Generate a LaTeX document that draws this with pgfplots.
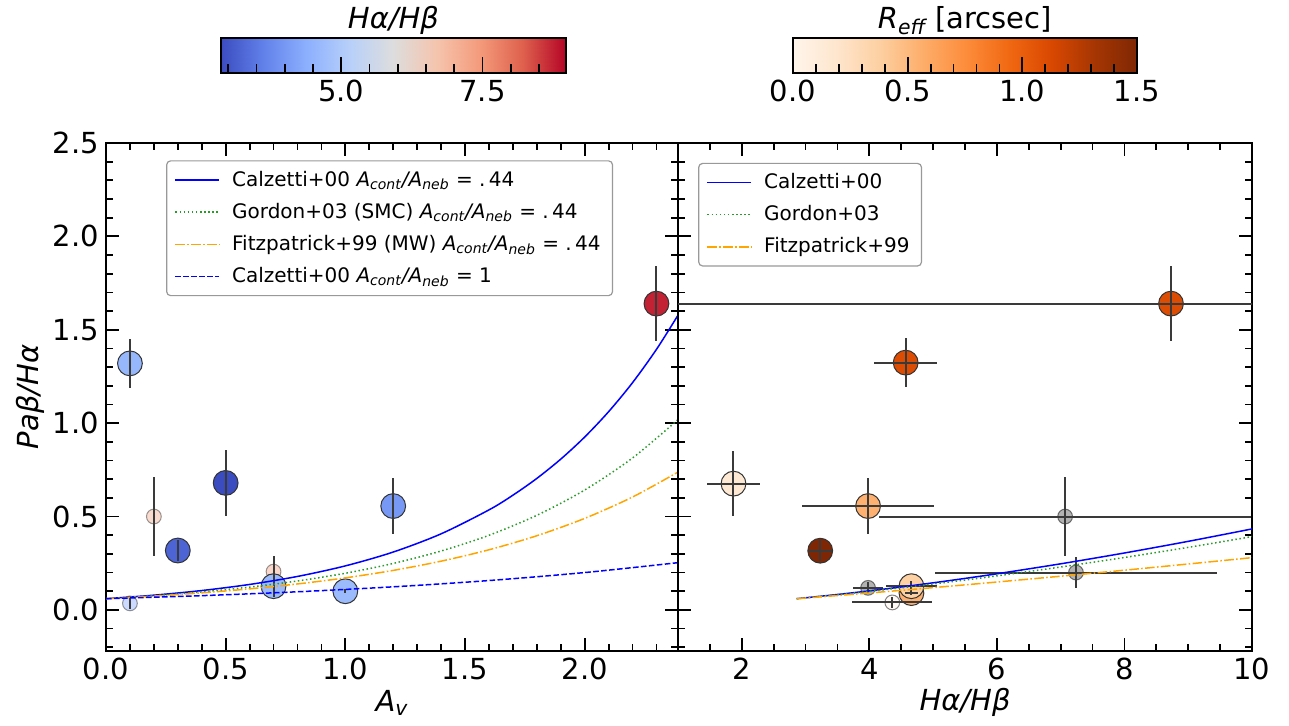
\documentclass[border=0pt]{standalone}
\usepackage{fontspec}
\setmainfont{DejaVu Sans}
\usepackage{pgfplots}
\usepackage{pgfplotstable}
\pgfplotsset{compat=1.18}

\definecolor{cblue}{HTML}{0000FF}
\definecolor{cgreen}{HTML}{2A9A2A}
\definecolor{corange}{HTML}{FFA500}
\definecolor{ebar}{HTML}{3A3A3A}
\definecolor{medge}{HTML}{333333}

\pgfplotsset{
  colormap={coolwarm}{rgb255=(59,76,192) rgb255=(98,130,234) rgb255=(141,176,254) rgb255=(184,208,249) rgb255=(221,221,221) rgb255=(245,196,173) rgb255=(244,154,123) rgb255=(222,96,77) rgb255=(180,4,38)},
  colormap={oranges}{rgb255=(255,245,235) rgb255=(254,230,206) rgb255=(253,208,162) rgb255=(253,174,107) rgb255=(253,141,60) rgb255=(241,105,19) rgb255=(217,72,1) rgb255=(166,54,3) rgb255=(127,39,4)},
}

\pgfplotsset{
  /pgf/number format/assume math mode=true,
  base/.style={
    scale only axis, anchor=south west,
    axis line style={line width=1.2pt},
    tick style={line width=0.9pt, black},
    major tick length=6.5pt, minor tick length=3.5pt,
    tick align=inside,
    tick label style={font=\fontsize{14.5}{17}\selectfont},
    label style={font=\fontsize{14.5}{17}\selectfont},
  },
  mainax/.style={
    base, height=254pt,
    clip marker paths=true,
    ymin=-0.22, ymax=2.5,
    ytick={0,0.5,1,1.5,2,2.5},
    minor ytick={-0.2,-0.1,0.1,0.2,0.3,0.4,0.6,0.7,0.8,0.9,1.1,1.2,1.3,1.4,1.6,1.7,1.8,1.9,2.1,2.2,2.3,2.4},
    xtick pos=both, ytick pos=both,
    xticklabel pos=lower, yticklabel pos=left,
    yticklabel style={/pgf/number format/.cd, fixed, fixed zerofill, precision=1},
    xlabel style={at={(axis description cs:0.5,-0.102)}, anchor=center},
  },
  lineax/.style={
    scale only axis, anchor=south west, height=254pt, ymin=-0.22, ymax=2.5,
    hide axis,
    legend style={font=\fontsize{10}{12}\selectfont, draw=black!40, rounded corners=2pt,
      line width=0.6pt, fill=white, inner xsep=4pt, inner ysep=3pt,
      row sep=3pt, column sep=4pt, cells={anchor=west}},
    legend cell align=left,
    legend image code/.code={\draw[##1] (0pt,0pt) -- (22pt,0pt);},
  },
  cbar/.style={
    base, height=17.5pt, ymin=0, ymax=1, ytick=\empty,
    xtick pos=lower, xticklabel pos=lower, axis on top,
    major tick length=8pt, minor tick length=4.5pt,
    xticklabel style={/pgf/number format/.cd, fixed, fixed zerofill, precision=1},
    every axis title shift=0pt,
    title style={at={(axis description cs:0.5,1.257)}, anchor=base, font=\fontsize{14.5}{17}\selectfont},
  },
  ebars/.style={forget plot, draw=none, mark=none,
    error bars/error mark=none,
    error bars/error bar style={draw=ebar, line width=1pt, solid}},
  lcal/.style={color=cblue, line width=0.75pt, solid},
  lgor/.style={color=cgreen, line width=0.75pt, dash pattern=on 0.75pt off 1.3pt},
  lfit/.style={color=corange, line width=0.75pt, dash pattern=on 4.8pt off 1.2pt on 0.75pt off 1.2pt},
  lcal1/.style={color=cblue, line width=0.75pt, dash pattern=on 2.8pt off 1.2pt},
}

% ---------- data ----------
% left panel: A_V, Pa beta / H alpha, colour = H alpha / H beta
\pgfplotstableread{
x y c ey
0.1 1.320 4.57 0.13
0.3 0.318 3.23 0.055
0.5 0.680 2.87 0.175
0.7 0.127 4.66 0.03
1.0 0.100 4.66 0.01
1.2 0.556 4.00 0.15
2.3 1.640 8.73 0.20
}\leftbig
\pgfplotstableread{
x y c ey
0.1 0.035 4.36 0.03
0.2 0.500 7.07 0.21
0.7 0.118 3.98 0.05
0.7 0.205 7.24 0.085
}\leftsmall
% right panel: H alpha / H beta, Pa beta / H alpha, colour = R_eff
\pgfplotstableread{
x y c ex ey
4.66 0.090 0.55 0.10 0.012
4.66 0.127 0.37 0.40 0.03
1.87 0.676 0.15 0.41 0.175
3.98 0.556 0.55 1.03 0.15
3.23 0.317 1.50 0.18 0.055
4.57 1.324 1.10 0.49 0.13
8.73 1.640 1.10 8.00 0.20
}\rightbig
\pgfplotstableread{
x y c ex ey
4.36 0.040 0.00 0.63 0.03
}\rightsmall
\pgfplotstableread{
x y ex ey
7.07 0.500 2.92 0.21
7.24 0.200 2.21 0.085
3.98 0.118 0.23 0.03
}\rightgray

\begin{document}
\begin{tikzpicture}
\path[use as bounding box] (0,0) rectangle (644.5pt,363pt);

% ================= left panel: points =================
\begin{axis}[mainax, at={(53pt,37.5pt)}, width=286pt,
  xmin=0, xmax=2.39,
  xtick={0,0.5,1,1.5,2},
  minor xtick={0.1,0.2,0.3,0.4,0.6,0.7,0.8,0.9,1.1,1.2,1.3,1.4,1.6,1.7,1.8,1.9,2.1,2.2,2.3},
  xticklabel style={/pgf/number format/.cd, fixed, fixed zerofill, precision=1},
  xlabel={\textit{A\textsubscript{v}}},
  ylabel={\textit{Paβ/Hα}},
  ylabel style={at={(axis description cs:-0.133,0.5)}, anchor=center},
  colormap name=coolwarm, point meta min=2.87, point meta max=8.98,
]
\addplot[forget plot, scatter, only marks, mark=*, mark size=3.7pt, point meta=explicit,
  scatter/use mapped color={draw=medge, fill=mapped color},
  mark options={line width=0.5pt, fill opacity=0.45, draw opacity=0.5}]
  table[x=x, y=y, meta=c] {\leftsmall};
\addplot[forget plot, scatter, only marks, mark=*, mark size=6.2pt, point meta=explicit,
  scatter/use mapped color={draw=medge, fill=mapped color},
  mark options={line width=0.5pt}]
  table[x=x, y=y, meta=c] {\leftbig};
\addplot[ebars, error bars/.cd, y dir=both, y explicit]
  table[x=x, y=y, y error=ey] {\leftsmall};
\addplot[ebars, error bars/.cd, y dir=both, y explicit]
  table[x=x, y=y, y error=ey] {\leftbig};
\end{axis}

% ================= left panel: curves + legend =================
\begin{axis}[lineax, at={(53pt,37.5pt)}, width=286pt, xmin=0, xmax=2.39,
  legend style={at={(0.105,0.966)}, anchor=north west},
]
\addplot[lcal, smooth] coordinates {
(0,0.0600) (0.2,0.0789) (0.4,0.1037) (0.6,0.1363) (0.8,0.1792) (1.0,0.2357)
(1.2,0.3098) (1.4,0.4073) (1.6,0.5354) (1.7,0.6140) (1.8,0.7040) (1.9,0.8072)
(2.0,0.9255) (2.1,1.0613) (2.2,1.2167) (2.3,1.3950) (2.39,1.578)};
\addlegendentry{Calzetti+00 \textit{A\textsubscript{cont}/A\textsubscript{neb}} = .\,44}
\addplot[lgor, smooth] coordinates {
(0,0.0600) (0.2,0.0760) (0.4,0.0964) (0.6,0.1222) (0.8,0.1548) (1.0,0.1962)
(1.2,0.2487) (1.4,0.3153) (1.6,0.3995) (1.8,0.5064) (2.0,0.6418) (2.2,0.8135) (2.39,1.0188)};
\addlegendentry{Gordon+03 (SMC) \textit{A\textsubscript{cont}/A\textsubscript{neb}} = .\,44}
\addplot[lfit, smooth] coordinates {
(0,0.0600) (0.2,0.0740) (0.4,0.0913) (0.6,0.1127) (0.8,0.1390) (1.0,0.1715)
(1.2,0.2115) (1.4,0.2609) (1.6,0.3219) (1.8,0.3971) (2.0,0.4900) (2.2,0.6044) (2.39,0.7380)};
\addlegendentry{Fitzpatrick+99 (MW) \textit{A\textsubscript{cont}/A\textsubscript{neb}} = .\,44}
\addplot[lcal1, smooth] coordinates {
(0,0.0600) (0.4,0.0763) (0.8,0.0971) (1.2,0.1236) (1.6,0.1572) (2.0,0.2000) (2.39,0.2529)};
\addlegendentry{Calzetti+00 \textit{A\textsubscript{cont}/A\textsubscript{neb}} = 1}
\end{axis}

% ================= right panel: points =================
\begin{axis}[mainax, at={(339pt,37.5pt)}, width=287pt,
  xmin=1, xmax=10,
  xtick={2,4,6,8,10},
  minor xtick={1,1.5,2.5,3,3.5,4.5,5,5.5,6.5,7,7.5,8.5,9,9.5},
  yticklabels={},
  xlabel={\textit{Hα/Hβ}},
  colormap name=oranges, point meta min=0, point meta max=1.5,
]
\addplot[forget plot, only marks, mark=*, mark size=3.7pt,
  mark options={fill=gray, draw=black, line width=0.5pt, fill opacity=0.6, draw opacity=0.5}]
  table[x=x, y=y] {\rightgray};
\addplot[forget plot, scatter, only marks, mark=*, mark size=3.7pt, point meta=explicit,
  scatter/use mapped color={draw=medge, fill=mapped color},
  mark options={line width=0.5pt, fill opacity=0.5, draw opacity=0.6}]
  table[x=x, y=y, meta=c] {\rightsmall};
\addplot[forget plot, scatter, only marks, mark=*, mark size=6.2pt, point meta=explicit,
  scatter/use mapped color={draw=medge, fill=mapped color},
  mark options={line width=0.5pt}]
  table[x=x, y=y, meta=c] {\rightbig};
\addplot[ebars, error bars/.cd, x dir=both, x explicit, y dir=both, y explicit]
  table[x=x, y=y, x error=ex, y error=ey] {\rightgray};
\addplot[ebars, error bars/.cd, x dir=both, x explicit, y dir=both, y explicit]
  table[x=x, y=y, x error=ex, y error=ey] {\rightsmall};
\addplot[ebars, error bars/.cd, x dir=both, x explicit, y dir=both, y explicit]
  table[x=x, y=y, x error=ex, y error=ey] {\rightbig};
\end{axis}

% ================= right panel: curves + legend =================
\begin{axis}[lineax, at={(339pt,37.5pt)}, width=287pt, xmin=1, xmax=10,
  legend style={at={(0.035,0.961)}, anchor=north west},
]
\addplot[lcal, smooth] coordinates {
(2.86,0.0600) (3.5,0.0825) (4,0.1019) (4.5,0.1228) (5,0.1450) (5.5,0.1686)
(6,0.1934) (7,0.2468) (8,0.3048) (9,0.3671) (10,0.4336)};
\addlegendentry{Calzetti+00}
\addplot[lgor, smooth] coordinates {
(2.86,0.0600) (3.5,0.0812) (4,0.0992) (4.5,0.1184) (5,0.1387) (5.5,0.1600)
(6,0.1823) (7,0.2297) (8,0.2807) (9,0.3349) (10,0.3923)};
\addlegendentry{Gordon+03}
\addplot[lfit, smooth] coordinates {
(2.86,0.0600) (3.5,0.0769) (4,0.0907) (4.5,0.1048) (5,0.1193) (5.5,0.1341)
(6,0.1493) (7,0.1804) (8,0.2126) (9,0.2458) (10,0.2798)};
\addlegendentry{Fitzpatrick+99}
\end{axis}

% ================= colour bars =================
\begin{axis}[cbar, at={(110.5pt,326.5pt)}, width=172.5pt,
  xmin=2.87, xmax=8.98,
  xtick={5,7.5}, minor xtick={3,3.5,4,4.5,5.5,6,6.5,7,8,8.5},
  colormap name=coolwarm, point meta min=2.87, point meta max=8.98,
  title={\textit{Hα/Hβ}},
]
\addplot[surf, shader=interp, mesh/rows=2, mesh/cols=9, point meta=x] coordinates {
(2.87,0) (3.63375,0) (4.3975,0) (5.16125,0) (5.925,0) (6.68875,0) (7.4525,0) (8.21625,0) (8.98,0)
(2.87,1) (3.63375,1) (4.3975,1) (5.16125,1) (5.925,1) (6.68875,1) (7.4525,1) (8.21625,1) (8.98,1)};
\end{axis}

\begin{axis}[cbar, at={(396.5pt,326.5pt)}, width=172pt,
  xmin=0, xmax=1.5,
  xtick={0,0.5,1,1.5}, minor xtick={0.1,0.2,0.3,0.4,0.6,0.7,0.8,0.9,1.1,1.2,1.3,1.4},
  colormap name=oranges, point meta min=0, point meta max=1.5,
  title={\textit{R\textsubscript{eff}} [arcsec]},
]
\addplot[surf, shader=interp, mesh/rows=2, mesh/cols=9, point meta=x] coordinates {
(0,0) (0.1875,0) (0.375,0) (0.5625,0) (0.75,0) (0.9375,0) (1.125,0) (1.3125,0) (1.5,0)
(0,1) (0.1875,1) (0.375,1) (0.5625,1) (0.75,1) (0.9375,1) (1.125,1) (1.3125,1) (1.5,1)};
\end{axis}
\end{tikzpicture}
\end{document}
